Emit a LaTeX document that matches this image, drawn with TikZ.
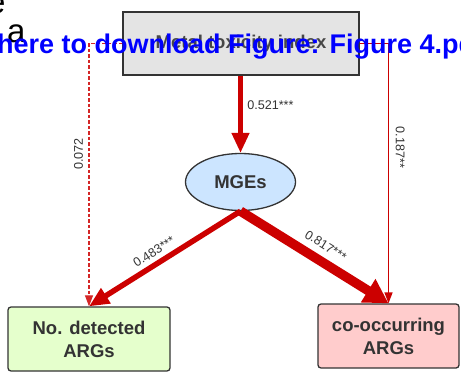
\documentclass[tikz,border=0pt]{standalone}
\usepackage{fontspec}
\setmainfont{Liberation Sans}
\usetikzlibrary{arrows.meta,shapes.geometric}

\definecolor{pathred}{HTML}{CC0000}
\definecolor{boxline}{HTML}{333333}
\definecolor{labeltext}{HTML}{333333}
\definecolor{metalfill}{HTML}{E4E4E4}
\definecolor{mgefill}{HTML}{CCE5FF}
\definecolor{argfill}{HTML}{E5FFCC}
\definecolor{cooccfill}{HTML}{FFCCCC}

\begin{document}
\begin{tikzpicture}[x=1pt,y=-1pt,
    varbox/.style={draw=boxline, line width=1.3pt, rounded corners=3pt, align=center,
      inner sep=0pt, text=labeltext, font=\fontsize{18.5}{23}\selectfont\bfseries},
    coef/.style={font=\fontsize{12.6}{14}\selectfont, text=labeltext, inner sep=1.5pt},
    thinpath/.style={draw=pathred, line width=1.5pt, -{Triangle[length=11pt,width=8pt]}},
    midpath/.style={draw=pathred, line width=4.5pt, -{Triangle[length=20pt,width=17pt]}},
    fatpath/.style={draw=pathred, line width=9.5pt, -{Triangle[length=24pt,width=26pt]}}]

    % Fix the page size
    \useasboundingbox (0,0) rectangle (461,372);
    \clip (0,0) rectangle (461,372);

    % Variables
    \node[varbox, rounded corners=0pt, fill=metalfill, text=labeltext!90,
      minimum width=236pt, minimum height=63pt] (metal) at (241,43.5) {Metal toxicity index};
    \node[draw=boxline, line width=1.3pt, ellipse, fill=mgefill, inner sep=0pt,
      minimum width=110pt, minimum height=57pt, text=labeltext,
      font=\fontsize{18.5}{23}\selectfont\bfseries] (mges) at (240.5,182) {MGEs};
    \node[varbox, fill=argfill, minimum width=162pt, minimum height=64pt] (nargs) at (89,339)
      {No. detected\\ARGs};
    \node[varbox, fill=cooccfill, minimum width=141pt, minimum height=64pt] (cooc) at (388.5,336)
      {co-occurring\\ARGs};

    % Paths with coefficients
    \draw[midpath] (metal.south -| mges.north) -- node[coef, pos=0.38, anchor=west, xshift=3pt] {0.521***} (mges.north);
    \draw[thinpath, line width=1.1pt, pathred!85, dash pattern=on 3.5pt off 2pt] (metal.west) -| node[coef, pos=0.71, rotate=90, anchor=south, yshift=4pt] {0.072} (nargs.north);
    \draw[thinpath] (metal.east) -| node[coef, pos=0.70, rotate=-90, anchor=south, yshift=5pt] {0.187**} (cooc.north);
    \draw[midpath, line width=5.5pt] (mges.south) -- node[coef, pos=0.53, sloped, above=3pt] {0.483***} (nargs.north);
    \draw[fatpath] (mges.south) -- node[coef, pos=0.52, sloped, above=5pt] {0.817***} (cooc.north);

    % Overlaid download text
    \node[anchor=base west, inner sep=0pt, font=\fontsize{33}{33}\selectfont] (lete) at (-13,13) {e};
    \node[anchor=base west, inner sep=0pt, font=\fontsize{33}{33}\selectfont] (leta) at (7,42) {a};
    \node[anchor=base west, inner sep=0pt, text=blue, font=\fontsize{27}{27}\selectfont\bfseries]
      (dl) at (-3,53) {here to download Figure: Figure 4.pdf};
\end{tikzpicture}
\end{document}
